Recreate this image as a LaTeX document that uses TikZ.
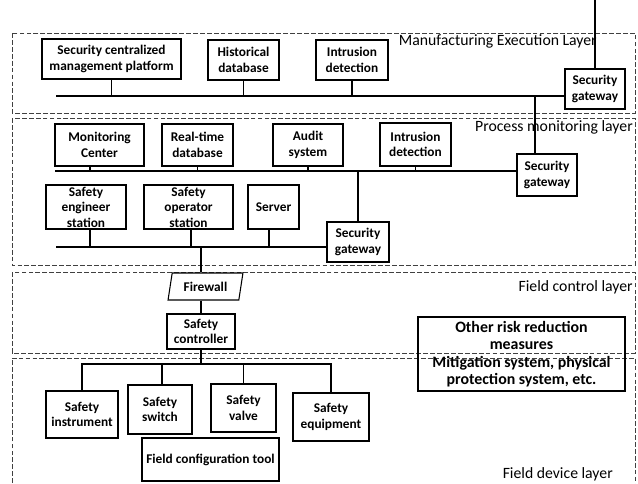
\documentclass[tikz,border=0pt]{standalone}
\usepackage{fontspec}
\setmainfont{Carlito}
\usetikzlibrary{shapes.geometric}

\begin{document}
\begin{tikzpicture}[x=0.75pt,y=-0.75pt,
  span/.style n args={4}{minimum width={(#3-#1)*0.75pt}, minimum height={(#4-#2)*0.75pt},
    at={({(#1+#3)/2},{(#2+#4)/2})}},
  box/.style={draw, line width=0.8pt, inner sep=0pt, align=center,
    font=\bfseries\fontsize{10}{11.6}\selectfont},
  bigbox/.style={draw, line width=0.8pt, inner sep=0pt, align=center,
    font=\bfseries\fontsize{11.9}{13.1}\selectfont},
  layer/.style={draw=black!75, line width=0.75pt, dash pattern=on 3.6pt off 1.6pt},
  wire/.style={line width=1.1pt},
  layertitle/.style={font=\fontsize{11.8}{13}\selectfont, anchor=base east, inner sep=0pt}]

\useasboundingbox (0,0) rectangle (638,483);

% ---- layer frames ----
\draw[layer] (12,33) rectangle (635,113);
\draw[layer] (12,118) rectangle (635,265);
\draw[layer] (12,272) rectangle (635,353);
\draw[layer] (12,490) -- (12,358) -- (635,358) -- (635,490);

\node[layertitle] (tme) at (597,45) {Manufacturing Execution Layer};
\node[layertitle] (tpm) at (633,131) {Process monitoring layer};
\node[layertitle] (tfc) at (633,291) {Field control layer};
\node[layertitle] (tfd) at (613,478) {Field device layer};

% ---- manufacturing execution layer ----
\node[box, span={42}{39}{181}{79}] (scmp) {Security centralized\\management platform};
\node[box, span={208}{40}{279}{80}] (hdb) {Historical\\database};
\node[box, span={316}{40}{388}{80}] (idm) {Intrusion\\detection};
\node[box, span={565}{69}{625}{109}] (sgm) {Security\\gateway};
\coordinate (mbus) at (56,96);
\coordinate (uplink) at (595,-2);
\coordinate (mlink) at (535,96);

\draw[wire] (mbus) -- (mbus -| sgm.west);
\draw[wire] (scmp.south) -- (scmp.south |- mbus);
\draw[wire] (hdb.south) -- (hdb.south |- mbus);
\draw[wire] (idm.south) -- (idm.south |- mbus);
\draw[wire] (sgm.north) -- (uplink);

% ---- process monitoring layer ----
\node[box, span={55}{124}{144}{166}] (mc) {Monitoring\\Center};
\node[box, span={162}{124}{233}{166}] (rtdb) {Real-time\\database};
\node[box, span={273}{124}{343}{166}] (aud) {Audit\\system};
\node[box, span={380}{123}{451}{166}] (idp) {Intrusion\\detection};
\node[box, span={517}{154}{577}{196}] (sgp) {Security\\gateway};
\node[box, span={46}{185}{126}{229}] (ses) {Safety\\engineer\\station};
\node[box, span={144}{185}{233}{229}] (sos) {Safety\\operator\\station};
\node[box, span={248}{185}{299}{229}] (srv) {Server};
\node[box, span={327}{222}{389}{262}] (sgl) {Security\\gateway};
\coordinate (pbus) at (55,171);
\coordinate (lbus) at (56,247);

\draw[wire] (mlink) -- (mlink |- sgp.north);
\draw[wire] (pbus) -- (pbus -| sgp.west);
\draw[wire] ([xshift=-7pt]mc.south) -- ([xshift=-7pt]mc.south |- pbus);
\draw[wire] (rtdb.south) -- (rtdb.south |- pbus);
\draw[wire] (aud.south) -- (aud.south |- pbus);
\draw[wire] (idp.south) -- (idp.south |- pbus);
\draw[wire] (sgl.north) -- (sgl.north |- pbus);
\draw[wire] (lbus) -- (lbus -| sgl.west);
\draw[wire] ([xshift=3pt]ses.south) -- ([xshift=3pt]ses.south |- lbus);
\draw[wire] ([xshift=1.9pt]sos.south) -- ([xshift=1.9pt]sos.south |- lbus);
\draw[wire] ([xshift=-3.4pt]srv.south) -- ([xshift=-3.4pt]srv.south |- lbus);

% ---- field control layer ----
\node[draw, line width=0.8pt, trapezium, trapezium left angle=74, trapezium right angle=106,
  trapezium stretches=true, minimum width=56.25pt, minimum height=20.25pt, inner sep=0pt,
  font=\bfseries\fontsize{10}{11.6}\selectfont] (fw) at (205.5,286.5) {Firewall};
\node[box, span={167}{314}{235}{349}] (sc) {Safety\\controller};
\node[bigbox, span={418}{317}{625}{391}] (orm)
  {Other risk reduction\\measures\\Mitigation system, physical\\protection system, etc.};

\draw[wire] (sc.north |- lbus) -- (sc.north |- fw.north);
\draw[wire] (sc.north |- fw.south) -- (sc.north);

% ---- field device layer ----
\node[box, span={46}{391}{118}{438}] (si) {Safety\\instrument};
\node[box, span={128}{385}{192}{434}] (ssw) {Safety\\switch};
\node[box, span={211}{384}{276}{432}] (sv) {Safety\\valve};
\node[box, span={293}{393}{369}{441}] (se) {Safety\\equipment};
\node[box, span={142}{438}{279}{481}] (fct) {Field configuration tool};
\coordinate (dbus) at (201,364);

\draw[wire] (sc.south) -- (sc.south |- dbus);
\draw[wire] (si.north) -- (si.north |- dbus) -- (se.north |- dbus) -- (se.north);
\draw[wire] ([xshift=1.5pt]ssw.north) -- ([xshift=1.5pt]ssw.north |- dbus);
\draw[wire] (sv.north) -- (sv.north |- dbus);
\end{tikzpicture}
\end{document}
